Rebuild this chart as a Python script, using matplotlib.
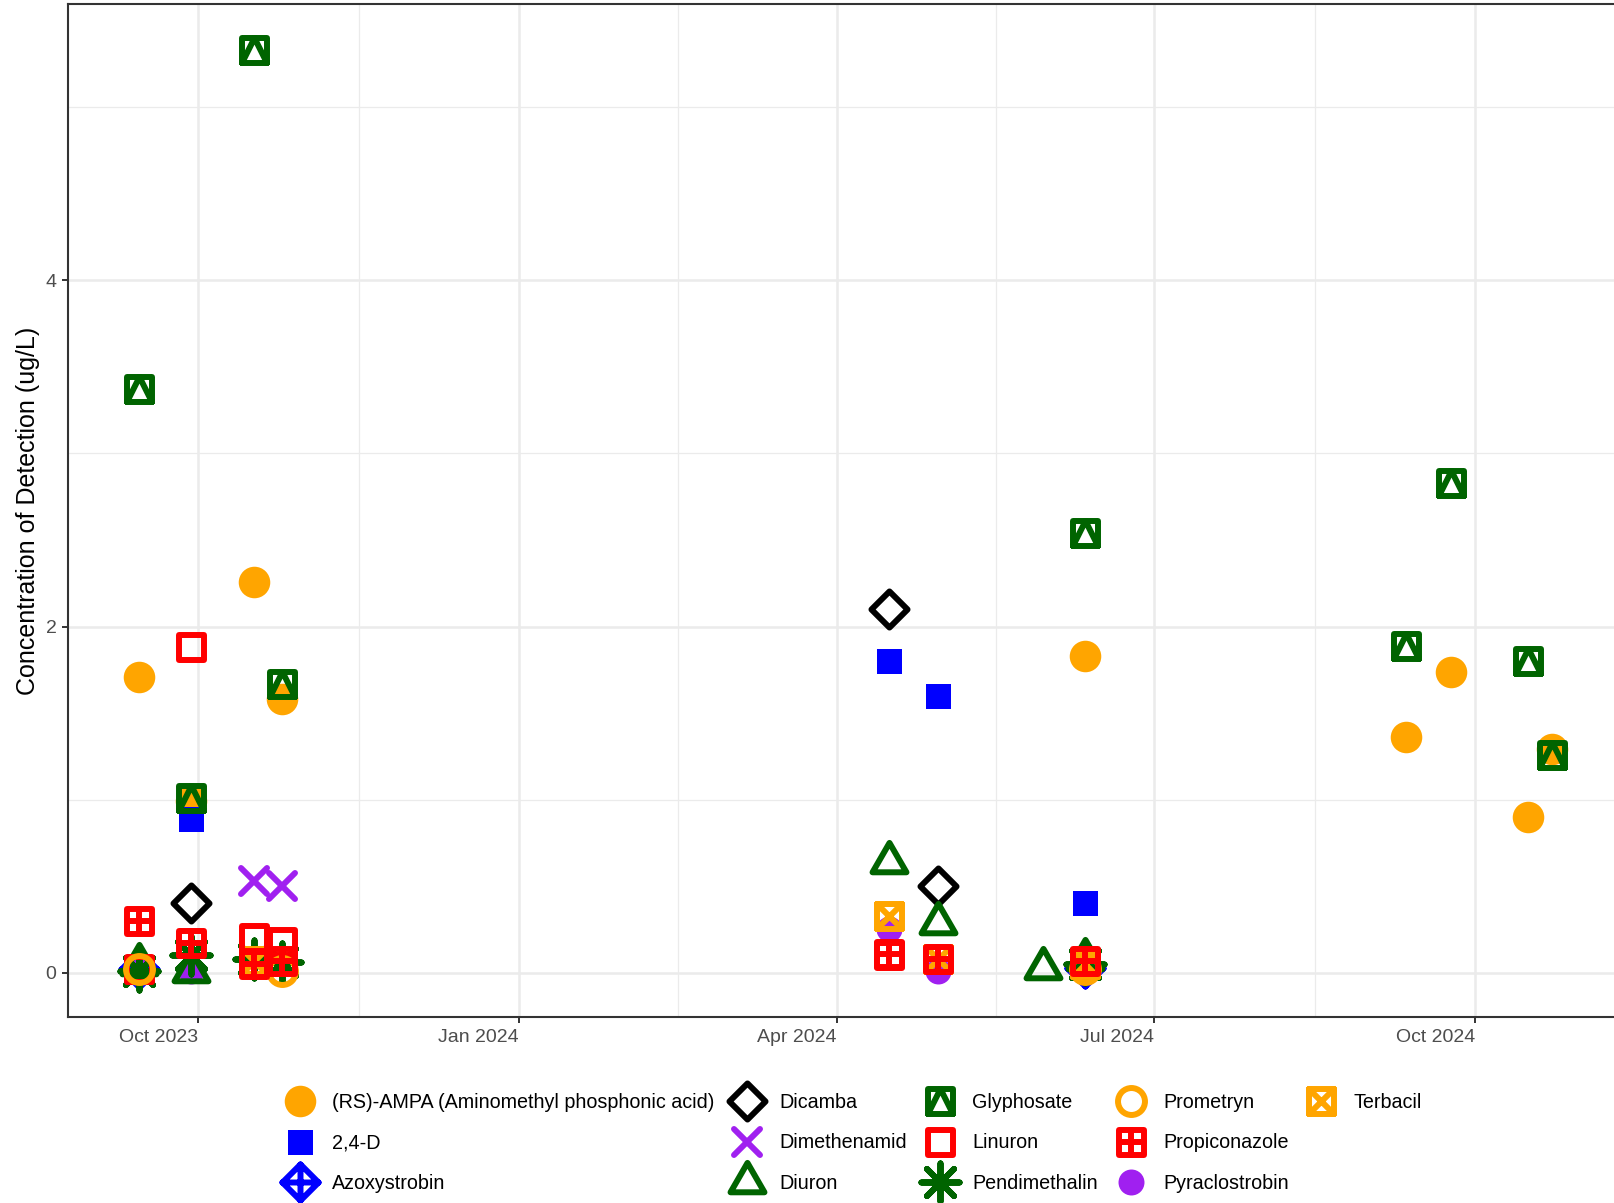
import numpy as np
import pandas as pd
import matplotlib
matplotlib.use("Agg")
import matplotlib.pyplot as plt
import matplotlib.dates as mdates
from matplotlib.lines import Line2D
from matplotlib.markers import MarkerStyle
from matplotlib.path import Path

plt.rcParams['font.family'] = ['Liberation Sans', 'DejaVu Sans']

# detections per compound (sample date, concentration ug/L)
ampa_dates = ['2023-09-14', '2023-09-29', '2023-10-17', '2023-10-25', '2024-06-11',
              '2024-09-11', '2024-09-24', '2024-10-16', '2024-10-23']
ampa_vals = [1.71, 0.99, 2.26, 1.58, 1.83, 1.36, 1.74, 0.90, 1.29]

d24_dates = ['2023-09-29', '2024-04-16', '2024-04-30', '2024-06-11']
d24_vals = [0.89, 1.80, 1.60, 0.40]

azoxy_dates = ['2023-09-14', '2024-06-11']
azoxy_vals = [0.02, 0.03]

dicamba_dates = ['2023-09-29', '2024-04-16', '2024-04-30']
dicamba_vals = [0.40, 2.10, 0.50]

dimeth_dates = ['2023-10-17', '2023-10-25']
dimeth_vals = [0.53, 0.50]

diuron_dates = ['2023-09-14', '2023-09-29', '2024-04-16', '2024-04-30', '2024-05-30', '2024-06-11']
diuron_vals = [0.05, 0.01, 0.64, 0.29, 0.03, 0.08]

glyph_dates = ['2023-09-14', '2023-09-29', '2023-10-17', '2023-10-25', '2024-06-11',
               '2024-09-11', '2024-09-24', '2024-10-16', '2024-10-23']
glyph_vals = [3.37, 1.01, 5.33, 1.67, 2.54, 1.89, 2.83, 1.80, 1.26]

linuron_dates = ['2023-09-14', '2023-09-29', '2023-10-17', '2023-10-25', '2024-04-16']
linuron_vals = [0.02, 1.88, 0.20, 0.18, 0.10]

pendi_dates = ['2023-09-14', '2023-09-29', '2023-10-17', '2023-10-25', '2024-06-11']
pendi_vals = [0.01, 0.10, 0.08, 0.06, 0.05]

promet_dates = ['2023-09-14', '2023-10-25', '2024-06-11']
promet_vals = [0.02, 0.01, 0.02]

propi_dates = ['2023-09-14', '2023-09-29', '2023-10-17', '2023-10-25', '2024-04-16', '2024-04-30', '2024-06-11']
propi_vals = [0.30, 0.17, 0.05, 0.07, 0.11, 0.08, 0.07]

pyra_dates = ['2023-09-14', '2023-09-29', '2024-04-16', '2024-04-30', '2024-06-11']
pyra_vals = [0.02, 0.01, 0.25, 0.01, 0.02]

terb_dates = ['2023-10-17', '2024-04-16', '2024-04-30', '2024-06-11']
terb_vals = [0.07, 0.33, 0.08, 0.05]

x_breaks = ['2023-10-01', '2024-01-01', '2024-04-01', '2024-07-01', '2024-10-01']
x_labels = ['Oct 2023', 'Jan 2024', 'Apr 2024', 'Jul 2024', 'Oct 2024']
y_breaks = [0, 2, 4]


# ggplot-like marker shapes
M, L, C = Path.MOVETO, Path.LINETO, Path.CLOSEPOLY
sq_v = [(-1, -1), (1, -1), (1, 1), (-1, 1), (-1, -1)]
sq_c = [M, L, L, L, C]


def square_with(verts, codes):
    return Path(sq_v + verts, sq_c + codes)


sq_plus = square_with([(0, -1), (0, 1), (-1, 0), (1, 0)], [M, L, M, L])
sq_cross = square_with([(-1, -1), (1, 1), (-1, 1), (1, -1)], [M, L, M, L])
sq_tri = square_with([(-1, -1), (0, 1), (1, -1)], [M, L, L])
sq_open = Path(sq_v, sq_c)
diamond = Path([(0, 1), (1, 0), (0, -1), (-1, 0), (0, 1)], [M, L, L, L, C])
diamond_plus = Path([(0, 1), (1, 0), (0, -1), (-1, 0), (0, 1), (0, -1), (0, 1), (-1, 0), (1, 0)],
                    [M, L, L, L, C, M, L, M, L])
triangle = Path([(0, 1.555), (1.347, -0.778), (-1.347, -0.778), (0, 1.555)], [M, L, L, C])

orange, blue, purple = '#FFA500', '#0000FF', '#A020F0'
green, red, black = '#006400', '#FF0000', '#000000'

LW = 4.3
# label, dates, values, marker, size(pt), color, filled, edge width, zorder
series = [
    ('(RS)-AMPA (Aminomethyl phosphonic acid)', ampa_dates, ampa_vals, 'o', 19.4, orange, True, 3.3, 2),
    ('2,4-D', d24_dates, d24_vals, 's', 18.0, blue, True, 0, 2),
    ('Azoxystrobin', azoxy_dates, azoxy_vals, diamond_plus, 26.0, blue, False, LW, 2),
    ('Dicamba', dicamba_dates, dicamba_vals, diamond, 26.0, black, False, LW, 2),
    ('Dimethenamid', dimeth_dates, dimeth_vals, 'x', 18.5, purple, False, LW, 2),
    ('Diuron', diuron_dates, diuron_vals, triangle, 28.2, green, False, LW, 2),
    ('Glyphosate', glyph_dates, glyph_vals, sq_tri, 18.0, green, False, LW, 2),
    ('Linuron', linuron_dates, linuron_vals, sq_open, 18.0, red, False, LW, 2.05),
    ('Pendimethalin', pendi_dates, pendi_vals, (8, 2, 0), 27.5, green, False, LW, 2),
    ('Prometryn', promet_dates, promet_vals, 'o', 19.4, orange, False, LW, 2.06),
    ('Propiconazole', propi_dates, propi_vals, sq_plus, 18.0, red, False, LW, 2.1),
    ('Pyraclostrobin', pyra_dates, pyra_vals, 'o', 18.7, purple, True, 0, 1.9),
    ('Terbacil', terb_dates, terb_vals, sq_cross, 18.0, orange, False, LW, 2),
]

fig = plt.figure(figsize=(16.15, 12.03), dpi=100)
ax = fig.add_axes([0.0421, 0.1546, 0.9628, 0.842])

handles = []
for label, dates, vals, mk, size, col, filled, mew, z in series:
    ms = MarkerStyle(mk, joinstyle='round', capstyle='round')
    h, = ax.plot(pd.to_datetime(dates), vals, linestyle='none', marker=ms,
                 markersize=size, markeredgewidth=mew, markeredgecolor=col,
                 markerfacecolor=col if filled else 'none', label=label, zorder=z)
    handles.append(h)

# ggplot default expansion (5% each side)
all_dates = pd.to_datetime(sum([s[1] for s in series], []))
all_vals = np.array(sum([s[2] for s in series], []))
dnum = mdates.date2num(all_dates)
xr = dnum.max() - dnum.min()
ax.set_xlim(dnum.min() - 0.05 * xr, dnum.max() + 0.05 * xr)
yr = all_vals.max() - all_vals.min()
ax.set_ylim(all_vals.min() - 0.05 * yr, all_vals.max() + 0.05 * yr)

xb = mdates.date2num(pd.to_datetime(x_breaks))
ax.set_xticks(xb, x_labels, ha='right')
ax.set_xticks((xb[:-1] + xb[1:]) / 2, minor=True)
ax.set_yticks(y_breaks, [str(v) for v in y_breaks])
ax.set_yticks([1, 3, 5], minor=True)

ax.grid(which='major', color='#EBEBEB', linewidth=1.8)
ax.grid(which='minor', color='#EBEBEB', linewidth=0.9)
ax.set_axisbelow(True)

for sp in ax.spines.values():
    sp.set_color('#333333')
    sp.set_linewidth(1.5)

ax.tick_params(which='major', length=4.3, width=1.4, color='#333333',
               labelsize=14, labelcolor='#4D4D4D')
ax.tick_params(axis='x', which='major', pad=4.5)
ax.tick_params(axis='y', which='major', pad=4)
ax.tick_params(which='minor', length=0)

ax.set_ylabel('Concentration of Detection (ug/L)', fontsize=18, labelpad=4)

# ggplot fills the 5 legend columns 3,3,3,3,1: pad with two blank entries
blank = [Line2D([], [], linestyle='none') for _ in range(2)]
fig.legend(handles + blank, [s[0] for s in series] + ['', ''], ncol=5, loc='center',
           bbox_to_anchor=(0.527, 0.0499), frameon=False, fontsize=14.2,
           handlelength=2.0, handletextpad=0.65, columnspacing=0.65,
           labelspacing=1.07, borderpad=0, borderaxespad=0)

fig.savefig('out.png', dpi=100)
